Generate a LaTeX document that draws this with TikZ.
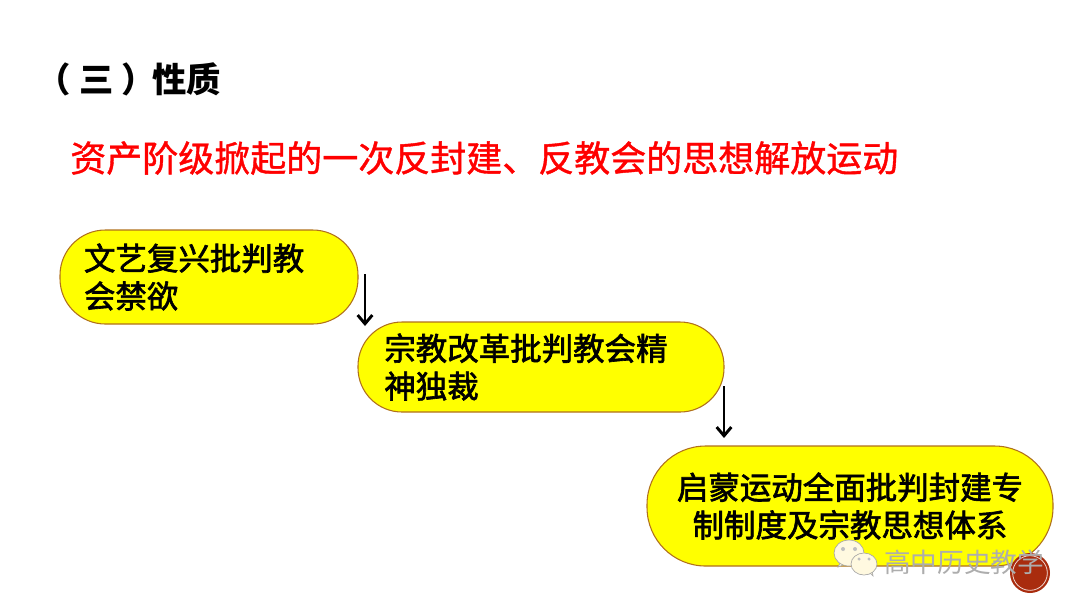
\documentclass[tikz,border=0pt]{standalone}
\usepackage{fontspec}
\setmainfont{Noto Sans CJK SC}
\newfontfamily\thesisfont[FakeBold=1.1]{Noto Sans CJK SC}
\newfontfamily\stagefont[FakeBold=2]{Noto Sans CJK SC}
\usepackage{xcolor}
\usepackage{tikz}
\usetikzlibrary{arrows.meta,positioning}
\definecolor{boxedge}{HTML}{B0701C}
\definecolor{boxfill}{HTML}{FFFF00}
\definecolor{thesisred}{HTML}{FF0000}
\definecolor{sealred}{HTML}{A92C0E}
\definecolor{bubblefill}{HTML}{FFF9E0}

\begin{document}
\begin{tikzpicture}[
  x=0.75pt, y=-0.75pt,
  >={Straight Barb[length=6.5pt,width=11pt]},
  stage/.style={
    rectangle, rounded corners=34pt, draw=boxedge, line width=0.8pt,
    fill=boxfill, font=\fontsize{23.6pt}{28.3pt}\selectfont\stagefont,
    inner xsep=0pt, inner ysep=0pt, outer sep=0pt, align=left
  },
  heading/.style={anchor=west, inner sep=0pt, font=\fontsize{25.8pt}{30pt}\selectfont\bfseries},
  thesis/.style={anchor=west, inner sep=0pt, text=thesisred, font=\fontsize{27pt}{32pt}\selectfont\thesisfont},
  flow/.style={->, line width=2.2pt},
  marklbl/.style={anchor=west, inner sep=0pt, text=black!32, font=\fontsize{20pt}{24pt}\selectfont},
  bubble/.style={draw=black!35, line width=0.5pt, fill=bubblefill}
]
\useasboundingbox (0,0) rectangle (1080,608);

% ---- heading and thesis line ----
\node[heading] (title) at (36,79) {（\hspace{6.75pt}三\hspace{5.25pt}）\hspace{-2.25pt}性质};
\node[thesis] (thesis) at (70,158) {资产阶级掀起的一次反封建、反教会的思想解放运动};

% ---- stages, stepping down to the right ----
\node[stage, minimum width=223.5pt, minimum height=70.5pt, text width=187.5pt] (renaissance) at (209,277)
  {文艺复兴批判教\\会禁欲};
\node[stage, rounded corners=33pt, minimum width=274.5pt, minimum height=67.5pt, text width=235pt,
      below right=-1.5pt and 0pt of renaissance] (reform)
  {宗教改革批判教会精\\神独裁};
\node[stage, rounded corners=44pt, minimum width=304.5pt, minimum height=90pt, text width=270pt, align=center,
      below right=25.5pt and -57.75pt of reform] (enlighten)
  {启蒙运动全面批判封建专\\制制度及宗教思想体系};

% ---- arrows between the stages ----
\coordinate[right=5.25pt of renaissance.east, yshift=2.25pt] (firststart);
\coordinate[right=5.25pt of reform.north west, yshift=-3pt] (firstend);
\coordinate[below=14.25pt of reform.east] (secondstart);
\coordinate[right=57.75pt of enlighten.north west, yshift=6pt] (secondend);
\draw[flow] (firststart) -- (firstend);
\draw[flow] (secondstart) -- (secondend);

% ---- watermark, lower right ----
\fill[sealred] (1030,573) circle (15pt);
\draw[white!80!sealred, line width=0.6pt] (1030,573) circle (13pt);
\draw[bubble] (843,565) -- (838,567) -- (841,561);
\draw[bubble] (849,553) ellipse (15 and 13);
\fill[black!25] (843,549) circle (1.5pt) (855,549) circle (1.5pt);
\draw[bubble] (868,571) -- (873,576) -- (872,570);
\draw[bubble] (864,564) ellipse (13 and 11);
\fill[black!25] (859,559) circle (1.3pt) (869,559) circle (1.3pt);
\node[marklbl] (account) at (884,562) {高中历史教学};

\end{tikzpicture}
\end{document}
